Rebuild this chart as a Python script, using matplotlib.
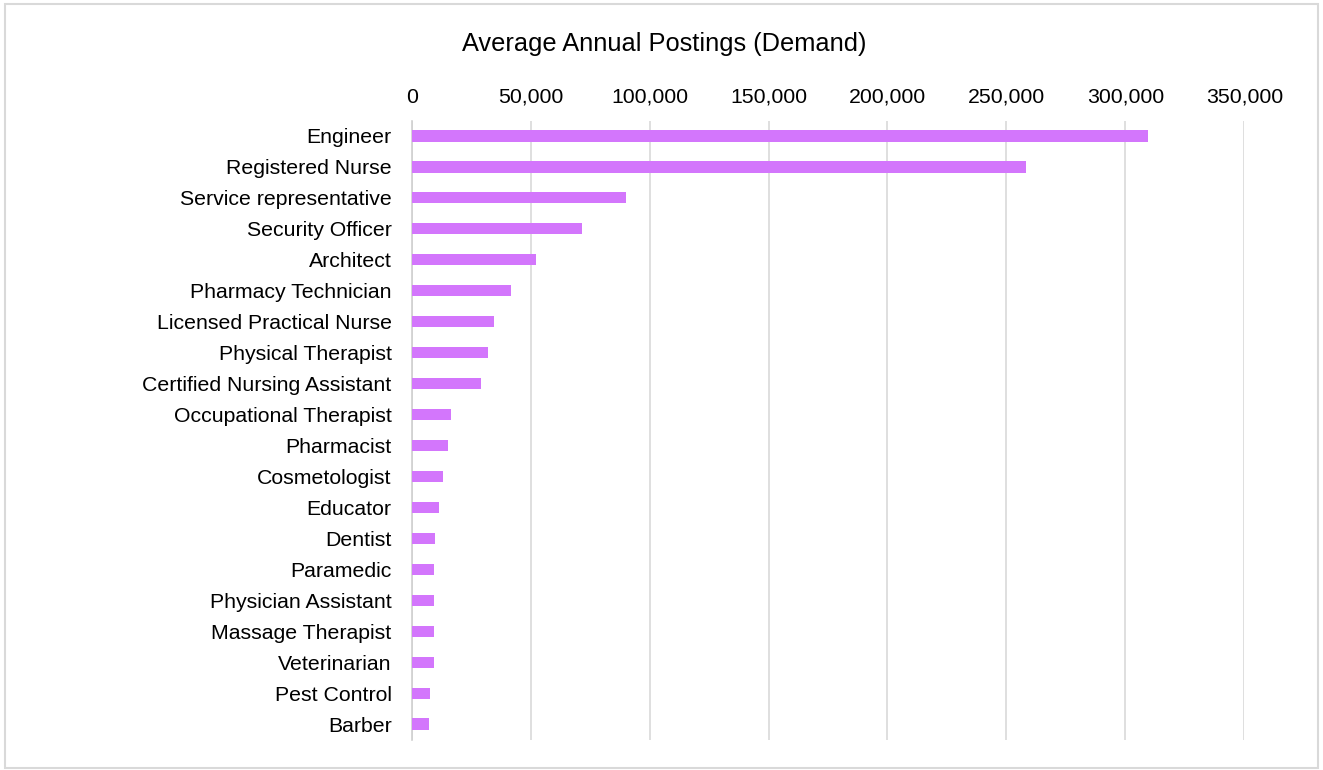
import matplotlib
matplotlib.use("Agg")
import matplotlib.pyplot as plt
from matplotlib.patches import Rectangle
from matplotlib.ticker import FuncFormatter, MultipleLocator

# occupations, top to bottom
occupations = ["Engineer", "Registered Nurse", "Service representative", "Security Officer",
               "Architect", "Pharmacy Technician", "Licensed Practical Nurse", "Physical Therapist",
               "Certified Nursing Assistant", "Occupational Therapist", "Pharmacist", "Cosmetologist",
               "Educator", "Dentist", "Paramedic", "Physician Assistant", "Massage Therapist",
               "Veterinarian", "Pest Control", "Barber"]
postings = [309400, 258300, 90200, 71700, 52200, 41800, 34800, 32100, 29200, 16400,
            15400, 13200, 11400, 9900, 9500, 9500, 9500, 9400, 7700, 7200]

plt.rcParams['font.family'] = ['Liberation Sans', 'DejaVu Sans']

fig = plt.figure(figsize=(13.23, 7.70), dpi=100)
ax = fig.add_axes([0.3112, 0.0396, 0.6293, 0.8039])

ypos = list(range(len(occupations)))
ax.barh(ypos, postings, height=0.36, color="#d376fc", zorder=3)
ax.set_ylim(len(occupations) - 0.5, -0.5)
ax.set_xlim(0, 350000)
ax.set_yticks(ypos)
ax.set_yticklabels(occupations, fontsize=15.3)

ax.xaxis.set_major_locator(MultipleLocator(50000))
ax.xaxis.set_major_formatter(FuncFormatter(lambda v, p: f"{int(v):,}"))
ax.xaxis.tick_top()
ax.tick_params(axis="x", labelsize=15.3, length=0, pad=10)
ax.tick_params(axis="y", length=0, pad=14.5)
ax.grid(axis="x", color="#d9d9d9", linewidth=1.2, zorder=0)
for s in ["top", "right", "bottom"]:
    ax.spines[s].set_visible(False)
ax.spines["left"].set_color("#d0d0d0")
ax.spines["left"].set_linewidth(1.2)

fig.text(0.502, 0.943, "Average Annual Postings (Demand)", ha="center", va="center", fontsize=18.3)

# light border round the chart
fig.patches.append(Rectangle((0.004, 0.003), 0.992, 0.992, transform=fig.transFigure,
                             fill=False, edgecolor="#d9d9d9", linewidth=1.5))

fig.savefig("out.png", dpi=100)
